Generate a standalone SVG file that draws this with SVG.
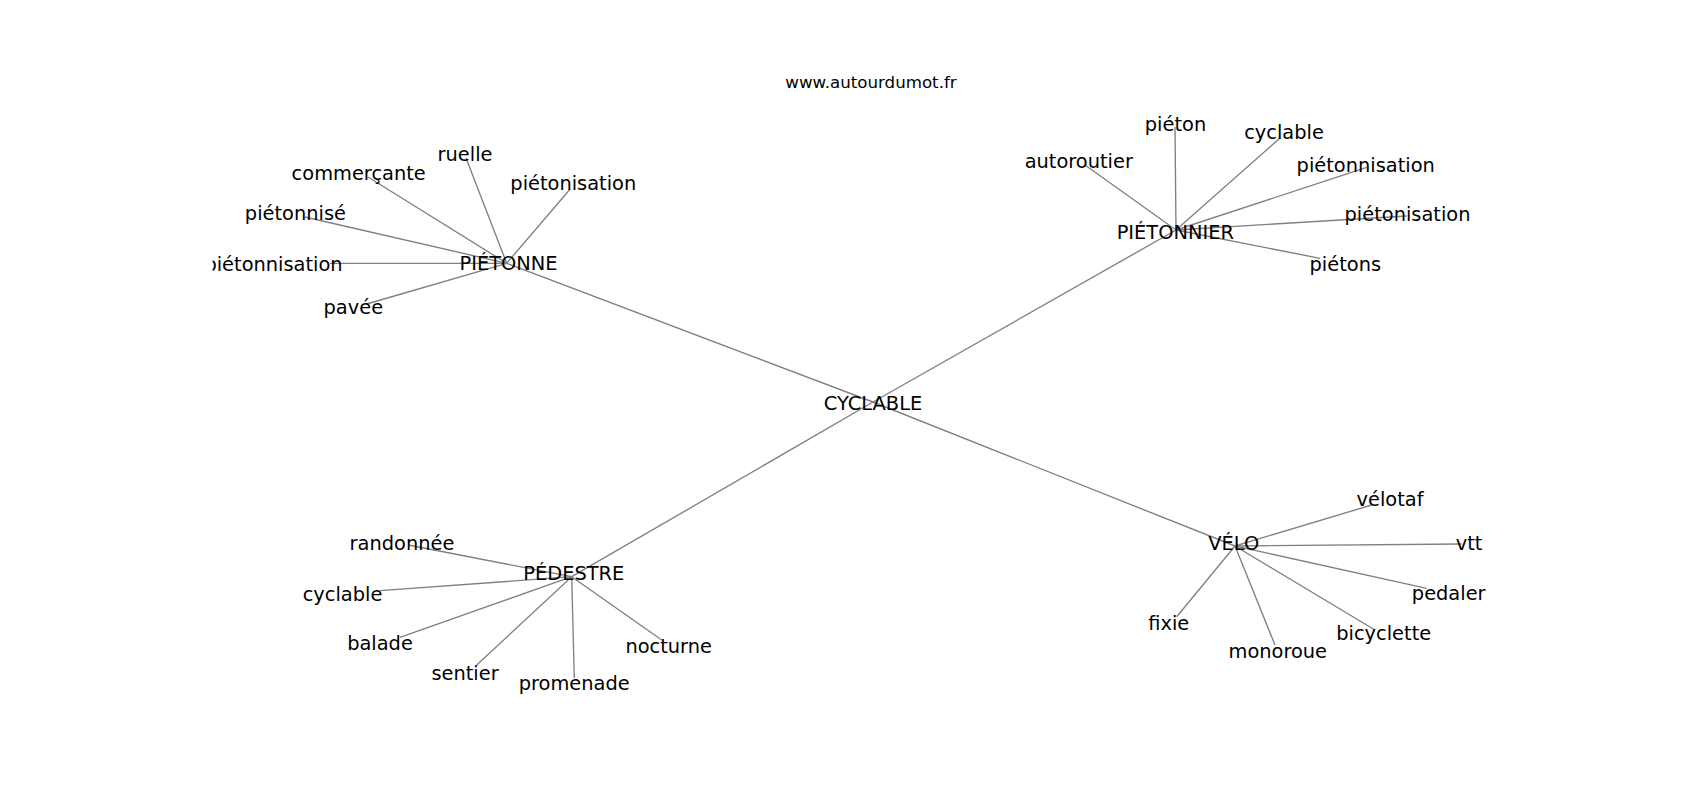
<svg xmlns="http://www.w3.org/2000/svg" width="1700" height="800" viewBox="0 0 1700 800">
<style>
.e{stroke:#808080;stroke-width:1.35;fill:none}
text{font-family:"DejaVu Sans","Liberation Sans",sans-serif;fill:#000;text-anchor:middle}
.n text{font-size:19.4px}
.t{font-size:16.67px}
</style>
<defs>
<clipPath id="ax"><rect x="212.5" y="96" width="1317.5" height="616"/></clipPath>
</defs>
<rect width="1700" height="800" fill="#fff"/>
<text class="t" x="871" y="88">www.autourdumot.fr</text>
<g clip-path="url(#ax)">
<g id="edges" class="e">
<line x1="873" y1="402" x2="506.7" y2="263.3"/>
<line x1="873" y1="402" x2="1176" y2="230"/>
<line x1="873" y1="402" x2="571.7" y2="576.7"/>
<line x1="873" y1="402" x2="1235" y2="546"/>
<line x1="506.7" y1="263.3" x2="466" y2="158"/>
<line x1="506.7" y1="263.3" x2="368" y2="177"/>
<line x1="506.7" y1="263.3" x2="305" y2="217"/>
<line x1="506.7" y1="263.3" x2="330" y2="263.3"/>
<line x1="506.7" y1="263.3" x2="366.7" y2="304"/>
<line x1="506.7" y1="263.3" x2="570" y2="189.3"/>
<line x1="1176" y1="230" x2="1175" y2="127"/>
<line x1="1176" y1="230" x2="1085" y2="165"/>
<line x1="1176" y1="230" x2="1280" y2="138"/>
<line x1="1176" y1="230" x2="1366.7" y2="167.3"/>
<line x1="1176" y1="230" x2="1406.7" y2="216"/>
<line x1="1176" y1="230" x2="1320" y2="258.3"/>
<line x1="571.7" y1="576.7" x2="408.3" y2="545"/>
<line x1="571.7" y1="576.7" x2="380" y2="590.7"/>
<line x1="571.7" y1="576.7" x2="400" y2="637.3"/>
<line x1="571.7" y1="576.7" x2="476.7" y2="665"/>
<line x1="571.7" y1="576.7" x2="574.3" y2="678.3"/>
<line x1="571.7" y1="576.7" x2="661.7" y2="640"/>
<line x1="1235" y1="546" x2="1371.7" y2="505"/>
<line x1="1235" y1="546" x2="1461.7" y2="544"/>
<line x1="1235" y1="546" x2="1426.7" y2="588.3"/>
<line x1="1235" y1="546" x2="1375" y2="630"/>
<line x1="1235" y1="546" x2="1275" y2="645"/>
<line x1="1235" y1="546" x2="1176.7" y2="616.7"/>
</g>
<g class="n">
<g id="n-cyclable"><text x="873" y="410">CYCLABLE</text></g>
<g id="n-pietonne"><text x="508.5" y="269.5">PIÉTONNE</text></g>
<g id="n-ruelle"><text x="465" y="160.7">ruelle</text></g>
<g id="n-commercante"><text x="358.7" y="180.3">commerçante</text></g>
<g id="n-pietonnise"><text x="295.4" y="219.5">piétonnisé</text></g>
<g id="n-pietonnisation1"><text x="273.5" y="270.5">piétonnisation</text></g>
<g id="n-pavee"><text x="353.3" y="314.3">pavée</text></g>
<g id="n-pietonisation1"><text x="573.3" y="189.5">piétonisation</text></g>
<g id="n-pietonnier"><text x="1175.3" y="238.8">PIÉTONNIER</text></g>
<g id="n-pieton"><text x="1175.5" y="130.7">piéton</text></g>
<g id="n-autoroutier"><text x="1078.8" y="167.8">autoroutier</text></g>
<g id="n-cyclable2"><text x="1284" y="139">cyclable</text></g>
<g id="n-pietonnisation2"><text x="1365.7" y="172">piétonnisation</text></g>
<g id="n-pietonisation2"><text x="1407.5" y="221">piétonisation</text></g>
<g id="n-pietons"><text x="1345.3" y="270.5">piétons</text></g>
<g id="n-pedestre"><text x="573.8" y="579.8">PÉDESTRE</text></g>
<g id="n-randonnee"><text x="402" y="549.8">randonnée</text></g>
<g id="n-cyclable3"><text x="342.5" y="600.8">cyclable</text></g>
<g id="n-balade"><text x="380" y="650">balade</text></g>
<g id="n-sentier"><text x="465" y="679.5">sentier</text></g>
<g id="n-promenade"><text x="574.2" y="690">promenade</text></g>
<g id="n-nocturne"><text x="668.7" y="652.8">nocturne</text></g>
<g id="n-velo"><text x="1233.7" y="549.8">VÉLO</text></g>
<g id="n-velotaf"><text x="1390" y="505.5">vélotaf</text></g>
<g id="n-vtt"><text x="1469" y="549.5">vtt</text></g>
<g id="n-pedaler"><text x="1448.7" y="600">pedaler</text></g>
<g id="n-bicyclette"><text x="1383.7" y="640">bicyclette</text></g>
<g id="n-monoroue"><text x="1277.8" y="658">monoroue</text></g>
<g id="n-fixie"><text x="1168.8" y="629.5">fixie</text></g>
</g>
</g>
</svg>
